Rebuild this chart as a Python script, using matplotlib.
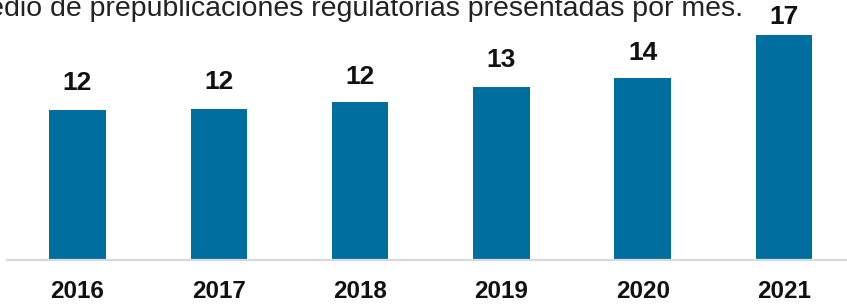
import matplotlib
matplotlib.use("Agg")
import matplotlib.pyplot as plt

years = ["2016", "2017", "2018", "2019", "2020", "2021"]
values = [11.55, 11.65, 12.15, 13.35, 14.0, 17.35]
labels = ["12", "12", "12", "13", "14", "17"]
title = "Promedio de prepublicaciones regulatorias presentadas por mes."

plt.rcParams['font.family'] = ['Liberation Sans', 'DejaVu Sans']

W, H = 847, 304
fig = plt.figure(figsize=(W / 100, H / 100), dpi=100)
left = 6.85 / W
bottom = 1 - 259.5 / H
ax = fig.add_axes([left, bottom, 6 * 141.3 / W, 259.5 / H])
ax.set_xlim(-0.5, 5.5)
ax.set_ylim(0, 259.5 / 12.95)

x = list(range(len(years)))
bars = ax.bar(x, values, width=0.4, color="#006fa0", zorder=2)

offsets = [10.5, 10.5, 9.5, 10.5, 9.5, 4.5]
for xi, v, lab, off in zip(x, values, labels, offsets):
    ax.annotate(lab, (xi, v), xytext=(0, off), textcoords="offset points",
                ha="center", va="bottom", fontsize=19, fontweight="bold",
                color="#111111")

for s in ["top", "right", "left"]:
    ax.spines[s].set_visible(False)
ax.spines["bottom"].set_color("#d9d9d9")
ax.spines["bottom"].set_linewidth(1.6)
ax.set_yticks([])
ax.set_xticks(x)
ax.set_xticklabels(years, fontsize=17.5, fontweight="bold", color="#111111")
ax.tick_params(axis="x", length=0, pad=14.5)

fig.text(743 / W, 1 - 16 / H, title, ha="right", va="baseline",
         fontsize=20.5, color="#222222")

fig.savefig("out.png", dpi=100)
